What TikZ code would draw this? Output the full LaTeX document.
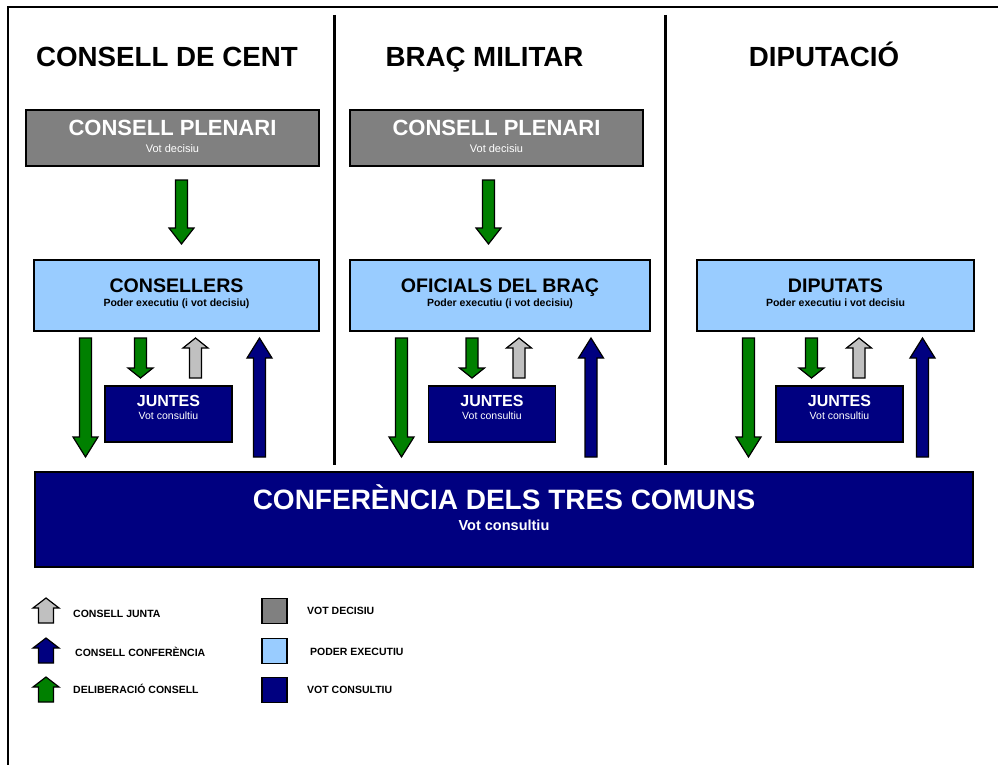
\documentclass[tikz,border=0pt]{standalone}
\usepackage{fontspec}
\setmainfont{Liberation Sans}
\usetikzlibrary{positioning}

\definecolor{gris}{RGB}{128,128,128}
\definecolor{blauclar}{RGB}{153,204,255}
\definecolor{blaumari}{RGB}{0,0,128}
\definecolor{verd}{RGB}{0,128,0}
\definecolor{grisclar}{RGB}{192,192,192}

\newcommand{\mida}[1]{\fontsize{#1}{#1}\selectfont}
\newcommand{\amplecos}{6}
\newcommand{\amplecap}{12.5}
% fletxa de bloc: color, x, y cua, y base del cap, y punta
\newcommand{\fletxa}[5]{%
  \filldraw[fletxa, fill=#1] (#2-\amplecos,#3) -- (#2-\amplecos,#4) -- (#2-\amplecap,#4)
    -- (#2,#5) -- (#2+\amplecap,#4) -- (#2+\amplecos,#4) -- (#2+\amplecos,#3) -- cycle;}

\tikzset{
  caixa/.style={draw=black, line width=1.6pt, inner sep=0pt},
  fletxa/.style={draw=black, line width=1.2pt, line join=miter},
  titol/.style={font=\mida{27.7}\bfseries, anchor=base},
  llegenda/.style={font=\mida{10.5}\bfseries, anchor=base west, inner sep=0pt},
}

\begin{document}
\begin{tikzpicture}[x=1pt, y=-1pt]
  \useasboundingbox (0,0) rectangle (998,765);
  \draw[line width=2.5pt] (8,780) -- (8,7) -- (1010,7);
  \draw[line width=3pt] (334,15) -- (334,465);
  \draw[line width=3pt] (665,15) -- (665,465);

  % titols
  \node[titol] (cent) at (167,67) {CONSELL DE CENT};
  \node[titol] (militar) at (484.5,67) {BRAÇ MILITAR};
  \node[titol] (diputacio) at (824,67) {DIPUTACIÓ};

  % consells plenaris
  \node[caixa, fill=gris, minimum width=293pt, minimum height=56pt] (plenari1) at (172.5,138) {};
  \node[caixa, fill=gris, minimum width=293pt, minimum height=56pt] (plenari2) at (496.5,138) {};
  \foreach \p in {plenari1, plenari2} {
    \node[font=\mida{22}\bfseries, text=white, anchor=base] at ([yshift=-26pt]\p.north) {CONSELL PLENARI};
    \node[font=\mida{11}, text=white, anchor=base] at ([yshift=-43pt]\p.north) {Vot decisiu};
  }

  % poder executiu
  \node[caixa, fill=blauclar, minimum width=285pt, minimum height=71pt] (consellers) at (176.5,295.5) {};
  \node[caixa, fill=blauclar, minimum width=300pt, minimum height=71pt] (oficials) at (500,295.5) {};
  \node[caixa, fill=blauclar, minimum width=277pt, minimum height=71pt] (diputats) at (835.5,295.5) {};
  \node[font=\mida{19.6}\bfseries, anchor=base] at ([yshift=-33pt]consellers.north) {CONSELLERS};
  \node[font=\mida{10.5}\bfseries, anchor=base] at ([yshift=-47pt]consellers.north) {Poder executiu (i vot decisiu)};
  \node[font=\mida{19.6}\bfseries, anchor=base] at ([yshift=-33pt]oficials.north) {OFICIALS DEL BRAÇ};
  \node[font=\mida{10.5}\bfseries, anchor=base] at ([yshift=-47pt]oficials.north) {Poder executiu (i vot decisiu)};
  \node[font=\mida{19.6}\bfseries, anchor=base] at ([yshift=-33pt]diputats.north) {DIPUTATS};
  \node[font=\mida{10.5}\bfseries, anchor=base] at ([yshift=-47pt]diputats.north) {Poder executiu i vot decisiu};

  % juntes
  \node[caixa, fill=blaumari, minimum width=127pt, minimum height=56pt] (juntes1) at (168.5,414) {};
  \node[caixa, fill=blaumari, minimum width=127pt, minimum height=56pt] (juntes2) at (492,414) {};
  \node[caixa, fill=blaumari, minimum width=127pt, minimum height=56pt] (juntes3) at (839.5,414) {};
  \foreach \j in {juntes1, juntes2, juntes3} {
    \node[font=\mida{16}\bfseries, text=white, anchor=base] at ([yshift=-21pt]\j.north) {JUNTES};
    \node[font=\mida{10.5}, text=white, anchor=base] at ([yshift=-34pt]\j.north) {Vot consultiu};
  }

  % conferencia
  \node[caixa, fill=blaumari, minimum width=938pt, minimum height=95pt] (conferencia) at (504,519.5) {};
  \node[font=\mida{28}\bfseries, text=white, anchor=base] at ([yshift=-38pt]conferencia.north) {CONFERÈNCIA DELS TRES COMUNS};
  \node[font=\mida{14.5}\bfseries, text=white, anchor=base] at ([yshift=-59pt]conferencia.north) {Vot consultiu};

  % fletxes
  \fletxa{verd}{181.5}{180}{228}{244}
  \fletxa{verd}{488.5}{180}{228}{244}
  \foreach \a/\b/\c/\d in {85.5/140.5/195.5/259.5, 401.5/472/519/591, 748.5/811.5/859/922.5} {
    \fletxa{verd}{\a}{338}{437}{457}
    \fletxa{verd}{\b}{338}{368}{378}
    \fletxa{grisclar}{\c}{378}{348}{338}
    \fletxa{blaumari}{\d}{457}{358}{338}
  }

  % llegenda
  \renewcommand{\amplecos}{7.5}
  \renewcommand{\amplecap}{13}
  \fletxa{grisclar}{46}{623}{608}{598}
  \fletxa{blaumari}{46}{663}{648}{638}
  \fletxa{verd}{46}{702}{687}{677}
  \node[llegenda] (ljunta) at (73,617) {CONSELL JUNTA};
  \node[llegenda] (lconf) at (75,656) {CONSELL CONFERÈNCIA};
  \node[llegenda] (ldelib) at (73,693) {DELIBERACIÓ CONSELL};
  \node[caixa, fill=gris, minimum size=25pt] (qdecisiu) at (274.5,611) {};
  \node[caixa, fill=blauclar, minimum size=25pt] (qexecutiu) at (274.5,651) {};
  \node[caixa, fill=blaumari, minimum size=25pt] (qconsultiu) at (274.5,690) {};
  \node[llegenda] (ldecisiu) at (307,614) {VOT DECISIU};
  \node[llegenda] (lexecutiu) at (310,655) {PODER EXECUTIU};
  \node[llegenda] (lconsultiu) at (307,693) {VOT CONSULTIU};
\end{tikzpicture}
\end{document}
